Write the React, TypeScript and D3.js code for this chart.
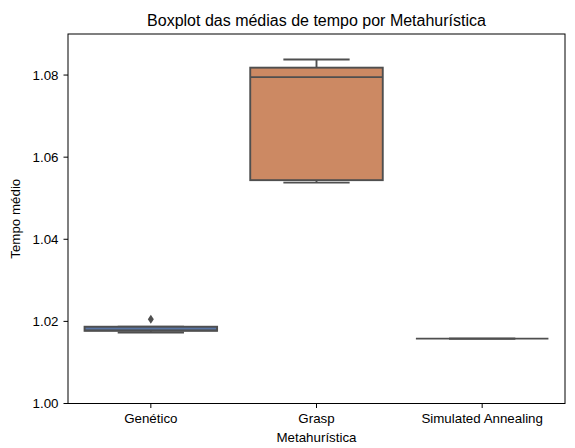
import * as d3 from "d3";

// five-number summaries, one entry per metaheuristic
const categories = ["Genético", "Grasp", "Simulated Annealing"];
const whiskerLow = [1.0173, 1.0538, 1.0158];
const q1 = [1.0177, 1.0544, 1.0158];
const medians = [1.0178, 1.0795, 1.0158];
const q3 = [1.0187, 1.0818, 1.0158];
const whiskerHigh = [1.0187, 1.0838, 1.0158];
const outliers = [[1.0205], [], []];
const boxColors = ["#5975a4", "#cc8963", "#5f9e6e"];
const yTicks = [1.0, 1.02, 1.04, 1.06, 1.08];

const W = 575;
const H = 448;
const margin = { left: 68, right: 10, top: 34, bottom: 44.5 };
const gray = "#4f4f4f";
const font = "'Liberation Sans', Arial, sans-serif";

export default function App() {
  const x = d3
    .scaleBand<string>()
    .domain(categories)
    .range([margin.left, W - margin.right])
    .padding(0);
  const y = d3
    .scaleLinear()
    .domain([1.0, 1.09])
    .range([H - margin.bottom, margin.top]);

  const boxW = x.bandwidth() * 0.8;
  const capW = boxW / 2;
  const x0 = margin.left;
  const x1 = W - margin.right;
  const y0 = H - margin.bottom;
  const y1 = margin.top;
  const lw = 1.9;

  return (
    <svg
      width={W}
      height={H}
      style={{ position: "absolute", left: 0, top: 0, background: "#fff" }}
      fontFamily={font}
    >
      {categories.map((c, i) => {
        const cx = (x(c) || 0) + x.bandwidth() / 2;
        return (
          <g key={c}>
            {/* whiskers */}
            <line x1={cx} x2={cx} y1={y(q3[i])} y2={y(whiskerHigh[i])} stroke={gray} strokeWidth={lw} />
            <line x1={cx} x2={cx} y1={y(q1[i])} y2={y(whiskerLow[i])} stroke={gray} strokeWidth={lw} />
            <line x1={cx - capW / 2} x2={cx + capW / 2} y1={y(whiskerHigh[i])} y2={y(whiskerHigh[i])} stroke={gray} strokeWidth={lw} />
            <line x1={cx - capW / 2} x2={cx + capW / 2} y1={y(whiskerLow[i])} y2={y(whiskerLow[i])} stroke={gray} strokeWidth={lw} />
            {/* box */}
            <rect
              x={cx - boxW / 2}
              y={y(q3[i])}
              width={boxW}
              height={Math.max(0, y(q1[i]) - y(q3[i]))}
              fill={boxColors[i]}
              stroke={gray}
              strokeWidth={lw}
            />
            <line x1={cx - boxW / 2} x2={cx + boxW / 2} y1={y(medians[i])} y2={y(medians[i])} stroke={gray} strokeWidth={lw} />
            {outliers[i].map((o, j) => (
              <path
                key={j}
                d={`M${cx},${y(o) - 4.5}L${cx + 3},${y(o)}L${cx},${y(o) + 4.5}L${cx - 3},${y(o)}Z`}
                fill={gray}
              />
            ))}
          </g>
        );
      })}

      {/* spines */}
      <rect x={x0} y={y1} width={x1 - x0} height={y0 - y1} fill="none" stroke="#000" strokeWidth={1} />

      {/* y axis */}
      {yTicks.map((t) => (
        <g key={t}>
          <line x1={x0 - 4.5} x2={x0} y1={y(t)} y2={y(t)} stroke="#000" strokeWidth={1} />
          <text x={x0 - 9.5} y={y(t)} dy="0.36em" textAnchor="end" fontSize={13.33} fill="#000">
            {d3.format(".2f")(t)}
          </text>
        </g>
      ))}

      {/* x axis */}
      {categories.map((c) => {
        const cx = (x(c) || 0) + x.bandwidth() / 2;
        return (
          <g key={c}>
            <line x1={cx} x2={cx} y1={y0} y2={y0 + 4.5} stroke="#000" strokeWidth={1} />
            <text x={cx} y={423} textAnchor="middle" fontSize={13.33} fill="#000">
              {c}
            </text>
          </g>
        );
      })}

      <text x={(x0 + x1) / 2} y={441.5} textAnchor="middle" fontSize={13.33} fill="#000">
        Metahurística
      </text>
      <text
        transform={`translate(20,${(y0 + y1) / 2}) rotate(-90)`}
        textAnchor="middle"
        fontSize={13.33}
        fill="#000"
      >
        Tempo médio
      </text>
      <text x={(x0 + x1) / 2} y={25.5} textAnchor="middle" fontSize={16} fill="#000">
        Boxplot das médias de tempo por Metahurística
      </text>
    </svg>
  );
}
